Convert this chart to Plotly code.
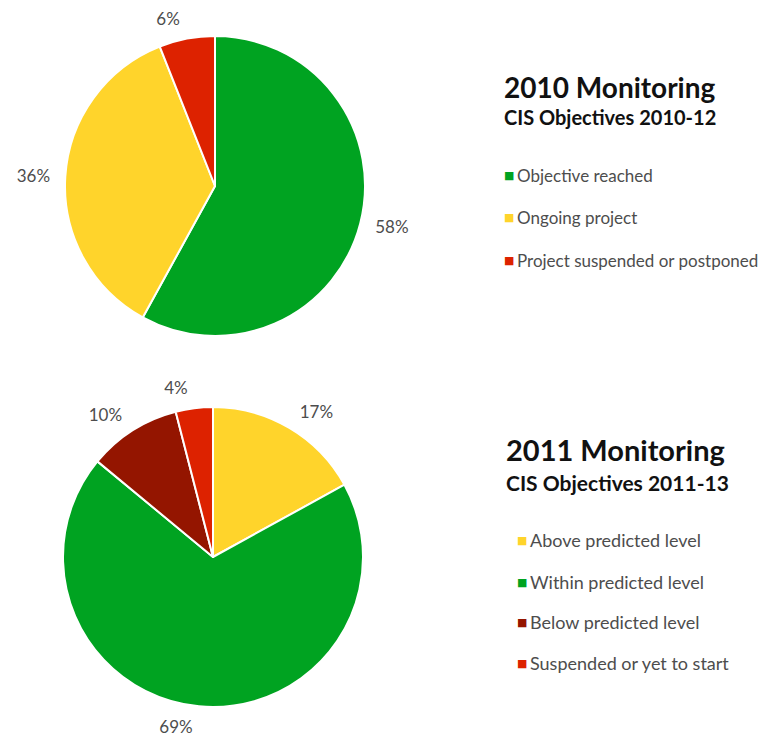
"""Two CIS monitoring pies with side legends."""

import plotly.graph_objects as go

W, H = 769, 736

# 2010 monitoring
labels_2010 = ["Objective reached", "Ongoing project", "Project suspended or postponed"]
values_2010 = [58, 36, 6]
colors_2010 = ["#00A321", "#FFD42B", "#DD2200"]

# 2011 monitoring
labels_2011 = ["Above predicted level", "Within predicted level",
               "Below predicted level", "Suspended or yet to start"]
values_2011 = [17, 69, 10, 4]
colors_2011 = ["#FFD42B", "#00A321", "#941500", "#DD2200"]

titles = ["2010 Monitoring", "2011 Monitoring"]
subtitles = ["CIS Objectives 2010-12", "CIS Objectives 2011-13"]

FONT = "Lato, Open Sans, sans-serif"
TEXT_GREY = "#4d4d4d"

# the page body adds an 8px offset; paper covers the whole figure
OFF = 8


def px_x(x):
    return (x - OFF) / W


def px_y(y):
    return 1 - (y - OFF) / H


def square(cx, cy, r):
    return dict(x=[px_x(cx - r), px_x(cx + r)], y=[px_y(cy + r), px_y(cy - r)])


fig = go.Figure()

pies = [
    (labels_2010, values_2010, colors_2010, (215, 186)),
    (labels_2011, values_2011, colors_2011, (213, 557)),
]
for lab, val, col, (cx, cy) in pies:
    # visible pie
    fig.add_trace(go.Pie(
        labels=lab,
        values=val,
        sort=False,
        direction="clockwise",
        rotation=0,
        marker=dict(colors=col, line=dict(color="white", width=2)),
        textinfo="none",
        domain=square(cx, cy, 150),
        showlegend=False,
        hoverinfo="label+percent",
    ))
    # slightly larger transparent ring that only carries the outside labels
    fig.add_trace(go.Pie(
        labels=lab,
        values=val,
        sort=False,
        direction="clockwise",
        rotation=0,
        marker=dict(colors=["rgba(0,0,0,0)"] * len(val), line=dict(width=0)),
        texttemplate="%{percent:.0%}",
        textposition="outside",
        outsidetextfont=dict(family=FONT, size=17, color=TEXT_GREY),
        domain=square(cx, cy, 160),
        showlegend=False,
        hoverinfo="skip",
    ))

annotations = []
blocks = [
    # title y, subtitle y, item ys, square x, font sizes
    (87, 117, [175, 217, 260], labels_2010, colors_2010, 504, (28, 20, 17)),
    (450, 482, [540, 582, 622, 663], labels_2011, colors_2011, 517, (29, 21, 18)),
]
for i, (ty, sy, item_ys, lab, col, sqx, (ft, fs, fi)) in enumerate(blocks):
    annotations.append(dict(
        x=px_x(502 if i == 0 else 504), y=px_y(ty), xref="paper", yref="paper",
        xanchor="left", yanchor="middle", showarrow=False,
        text=f"<b>{titles[i]}</b>",
        font=dict(family=FONT, size=ft, color="#111111"),
    ))
    annotations.append(dict(
        x=px_x(502 if i == 0 else 504), y=px_y(sy), xref="paper", yref="paper",
        xanchor="left", yanchor="middle", showarrow=False,
        text=f"<b>{subtitles[i]}</b>",
        font=dict(family=FONT, size=fs, color="#111111"),
    ))
    for yy, name, c in zip(item_ys, lab, col):
        annotations.append(dict(
            x=px_x(sqx - 2), y=px_y(yy), xref="paper", yref="paper",
            xanchor="left", yanchor="middle", showarrow=False,
            text="■", font=dict(family="DejaVu Sans", size=11, color=c),
        ))
        annotations.append(dict(
            x=px_x(sqx + 11), y=px_y(yy), xref="paper", yref="paper",
            xanchor="left", yanchor="middle", showarrow=False,
            text=name, font=dict(family=FONT, size=fi, color=TEXT_GREY),
        ))

fig.update_layout(
    width=W,
    height=H,
    margin=dict(l=0, r=0, t=0, b=0, autoexpand=False),
    paper_bgcolor="white",
    plot_bgcolor="white",
    annotations=annotations,
)

fig.write_html("out.html")
